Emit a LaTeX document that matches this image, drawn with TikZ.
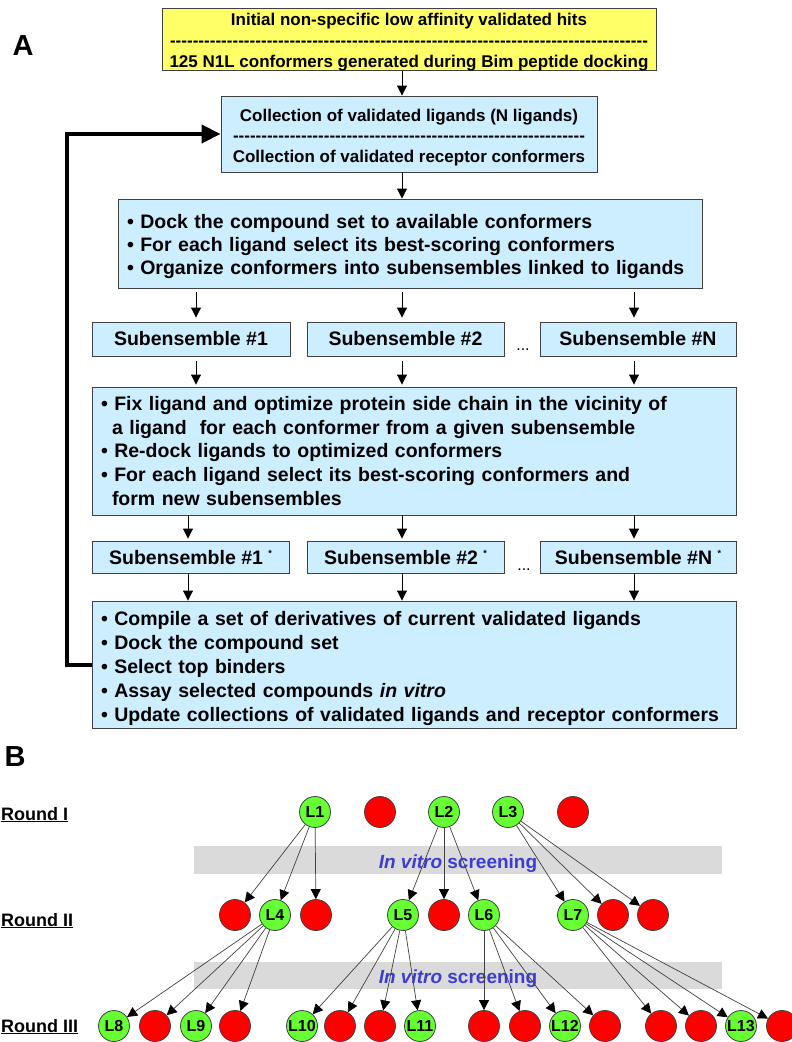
\documentclass[tikz,border=0pt]{standalone}
\usepackage{fontspec}
\setmainfont{Liberation Sans}
\usetikzlibrary{arrows.meta}
\definecolor{ylw}{HTML}{FFFF66}
\definecolor{lblue}{HTML}{CCEEFF}
\definecolor{bord}{HTML}{404040}
\definecolor{lgreen}{HTML}{66FF33}
\definecolor{bandgray}{HTML}{DADADA}
\definecolor{vblue}{HTML}{3C3CD2}
\newcommand{\dashrow}[1]{\makebox[#1]{\xleaders\hbox{-}\hfill}}
\newcommand{\topstrut}[1]{\rule{0pt}{#1}}
\tikzset{
  basebox/.style={draw=bord, line width=0.9pt, inner sep=0pt},
  ybox/.style={basebox, fill=ylw, align=center, font=\bfseries\fontsize{17}{21}\selectfont},
  cbox/.style={basebox, fill=lblue, align=center, font=\bfseries\fontsize{17}{20.5}\selectfont},
  lbox/.style={basebox, fill=lblue, align=left, font=\bfseries\fontsize{19.5}{23.7}\selectfont},
  sbox/.style={basebox, fill=lblue, font=\bfseries\fontsize{19.5}{23.7}\selectfont},
  aarr/.style={draw=black, line width=0.9pt, -{Triangle[length=10pt,width=10pt]}},
  fbarr/.style={draw=black, line width=4pt, -{Triangle[length=19pt,width=18pt]}},
  gn/.style={circle, draw=bord, line width=0.8pt, fill=lgreen, minimum size=31pt, inner sep=0pt, font=\bfseries\fontsize{16}{16}\selectfont},
  rn/.style={gn, fill=red},
  barr/.style={draw=black!75, line width=0.7pt, -{Triangle[length=10pt,width=10pt,color=black]}},
  band/.style={fill=bandgray, inner sep=0pt, minimum width=528pt, text=vblue, text height=16pt, text depth=0pt, font=\bfseries\fontsize{19}{19}\selectfont},
  rlabel/.style={anchor=base west, inner sep=0pt, font=\bfseries\fontsize{18}{18}\selectfont},
  plabel/.style={font=\bfseries\fontsize{29}{29}\selectfont, inner sep=0pt},
  dots/.style={anchor=base, inner sep=0pt, font=\fontsize{16}{16}\selectfont}
}
\begin{document}
\begin{tikzpicture}[x=1pt,y=-1pt]
\path[use as bounding box] (0,0) rectangle (792,1042);

% ---------- Part A ----------
\node[plabel] (labA) at (23,46) {A};

\node[ybox, minimum width=494pt, minimum height=59pt] (top) at (409,39.5)
  {\topstrut{17pt}Initial non-specific low affinity validated hits\\
   \dashrow{478pt}\\
   125 N1L conformers generated during Bim peptide docking};

\node[cbox, minimum width=376pt, minimum height=76pt] (coll) at (409,134)
  {\topstrut{19pt}Collection of validated ligands (N ligands)\\
   \dashrow{352pt}\\
   Collection of validated receptor conformers};

\node[lbox, minimum width=584pt, minimum height=89pt, text width=566pt, font=\bfseries\fontsize{19.5}{23.2}\selectfont] (dock) at (410,243.5)
  {\mbox{\topstrut{20pt}• Dock the compound set to available conformers}\\
   \mbox{• For each ligand select its best-scoring conformers}\\
   \mbox{• Organize conformers into subensembles linked to ligands}};

\node[sbox, minimum width=198pt, minimum height=34pt] (s1) at (191,339) {Subensemble \#1};
\node[sbox, minimum width=197pt, minimum height=34pt] (s2) at (405.5,339) {Subensemble \#2};
\node[sbox, minimum width=196pt, minimum height=34pt] (s3) at (638,339) {Subensemble \#N};
\node[dots] (d1) at (523,350) {...};

\node[lbox, minimum width=644pt, minimum height=128pt, text width=626pt] (opt) at (414,451)
  {\mbox{• Fix ligand and optimize protein side chain in the vicinity of}\\
   \mbox{\hspace*{11pt}a ligand \ for each conformer from a given subensemble}\\
   \mbox{• Re-dock ligands to optimized conformers}\\
   \mbox{• For each ligand select its best-scoring conformers and}\\
   \mbox{\hspace*{11pt}form new subensembles}};

\node[sbox, minimum width=197pt, minimum height=32pt] (t1) at (190.5,557)
  {Subensemble \#1 \raisebox{8pt}{\fontsize{9}{9}\selectfont *}};
\node[sbox, minimum width=197pt, minimum height=32pt] (t2) at (405.5,557)
  {Subensemble \#2 \raisebox{8pt}{\fontsize{9}{9}\selectfont *}};
\node[sbox, minimum width=196pt, minimum height=32pt] (t3) at (638,557)
  {Subensemble \#N \raisebox{8pt}{\fontsize{9}{9}\selectfont *}};
\node[dots] (d2) at (524,570) {...};

\node[lbox, minimum width=644pt, minimum height=127pt, text width=626pt, font=\bfseries\fontsize{19.5}{24}\selectfont] (comp) at (414,664.5)
  {\mbox{\topstrut{22pt}• Compile a set of derivatives of current validated ligands}\\
   \mbox{• Dock the compound set}\\
   \mbox{• Select top binders}\\
   \mbox{• Assay selected compounds \textit{in vitro}}\\
   \mbox{• Update collections of validated ligands and receptor conformers}};

\coordinate (ca) at (196,0);
\coordinate (cb) at (402,0);
\coordinate (cc) at (634,0);
\coordinate (cd) at (188,0);

\draw[aarr] (top.south -| cb) -- (coll.north -| cb);
\draw[aarr] (coll.south -| cb) -- (dock.north -| cb);
\draw[aarr, shorten <=4pt, shorten >=4pt] (dock.south -| ca) -- (s1.north -| ca);
\draw[aarr, shorten <=4pt, shorten >=4pt] (dock.south -| cb) -- (s2.north -| cb);
\draw[aarr, shorten <=4pt, shorten >=4pt] (dock.south -| cc) -- (s3.north -| cc);
\draw[aarr, shorten <=5pt, shorten >=2pt] (s1.south -| ca) -- (opt.north -| ca);
\draw[aarr, shorten <=5pt, shorten >=2pt] (s2.south -| cb) -- (opt.north -| cb);
\draw[aarr, shorten <=5pt, shorten >=2pt] (s3.south -| cc) -- (opt.north -| cc);
\draw[aarr, shorten >=2pt] (opt.south -| cd) -- (t1.north -| cd);
\draw[aarr, shorten >=2pt] (opt.south -| cb) -- (t2.north -| cb);
\draw[aarr, shorten >=2pt] (opt.south -| cc) -- (t3.north -| cc);
\draw[aarr] (t1.south -| cd) -- (comp.north -| cd);
\draw[aarr] (t2.south -| cb) -- (comp.north -| cb);
\draw[aarr] (t3.south -| cc) -- (comp.north -| cc);

\coordinate (fbx) at (67,0);
\draw[fbarr] (comp.west) -- (comp.west -| fbx) -- (coll.west -| fbx) -- (coll.west);

% ---------- Part B ----------
\node[plabel] (labB) at (15,757) {B};

\node[rlabel] (rI) at (1,820) {\underline{Round I}};
\node[rlabel] (rII) at (1,926) {\underline{Round II}};
\node[rlabel] (rIII) at (1,1032) {\underline{Round III}};

\node[band, minimum height=28pt] (band1) at (458,860) {\textit{In vitro} screening};
\node[band, minimum height=27pt] (band2) at (458,975.5) {\textit{In vitro} screening};

% Round I
\node[gn] (L1) at (315,812) {L1};
\node[rn] (r1a) at (380,812) {};
\node[gn] (L2) at (444,812) {L2};
\node[gn] (L3) at (508,812) {L3};
\node[rn] (r1b) at (573,812) {};

% Round II
\node[rn] (r2a) at (235,915) {};
\node[gn] (L4) at (275,915) {L4};
\node[rn] (r2b) at (316,915) {};
\node[gn] (L5) at (403,915) {L5};
\node[rn] (r2c) at (444,915) {};
\node[gn] (L6) at (484,915) {L6};
\node[gn] (L7) at (573,915) {L7};
\node[rn] (r2d) at (613,915) {};
\node[rn] (r2e) at (653,915) {};

% Round III
\node[gn] (L8) at (114,1026) {L8};
\node[rn] (r3a) at (155,1026) {};
\node[gn] (L9) at (196,1026) {L9};
\node[rn] (r3b) at (235,1026) {};
\node[gn] (L10) at (302,1026) {L10};
\node[rn] (r3c) at (340,1026) {};
\node[rn] (r3d) at (380,1026) {};
\node[gn] (L11) at (420,1026) {L11};
\node[rn] (r3e) at (484,1026) {};
\node[rn] (r3f) at (525,1026) {};
\node[gn] (L12) at (565,1026) {L12};
\node[rn] (r3g) at (605,1026) {};
\node[rn] (r3h) at (661,1026) {};
\node[rn] (r3i) at (701,1026) {};
\node[gn] (L13) at (741,1026) {L13};
\node[rn] (r3j) at (782,1026) {};

\foreach \s/\t in {L1/r2a, L1/L4, L1/r2b, L2/L5, L2/r2c, L2/L6, L3/L7, L3/r2d, L3/r2e,
  L4/L8, L4/r3a, L4/L9, L4/r3b, L5/L10, L5/r3c, L5/r3d, L5/L11,
  L6/r3e, L6/r3f, L6/L12, L6/r3g, L7/r3h, L7/r3i, L7/L13, L7/r3j}
  \draw[barr] (\s) -- (\t);
\end{tikzpicture}
\end{document}
